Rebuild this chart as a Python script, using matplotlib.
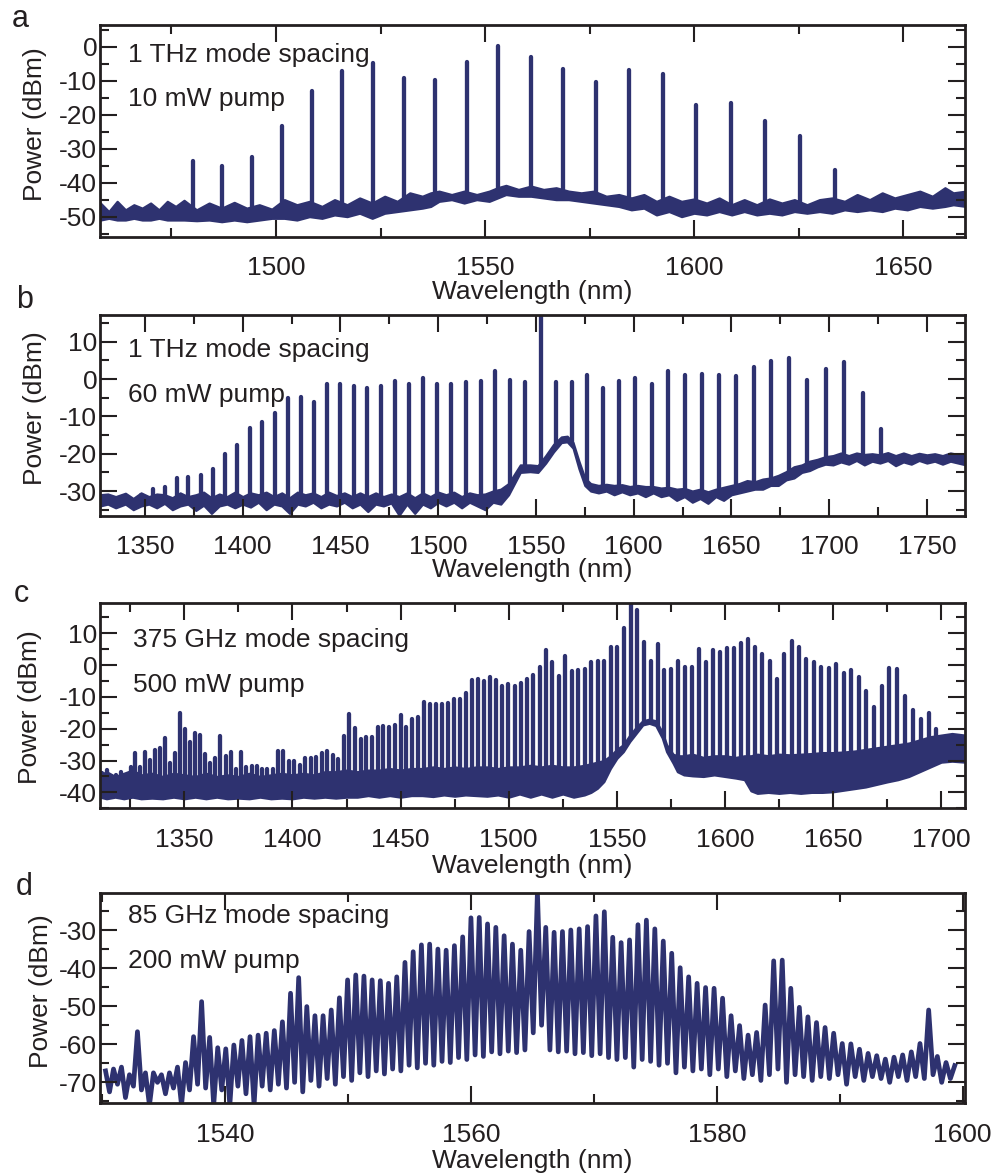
import numpy as np
import matplotlib
matplotlib.use("Agg")
import matplotlib.pyplot as plt
from matplotlib.ticker import MultipleLocator

plt.rcParams['font.family'] = ['Liberation Sans', 'DejaVu Sans']
plt.rcParams['axes.unicode_minus'] = False

C_NM_THZ = 299792.458          # speed of light, nm * THz
LINE = '#2e3270'
INK = '#231f20'
LW = 3.1
FS = 19

# ---------------- (a) 1 THz comb, 10 mW pump ----------------
a_pump_nm = 1553.2
a_spacing_thz = 0.952
a_modes = list(range(-10, 11))
a_peak_dbm = [-33.5, -35.0, -32.4, -23.3, -12.9, -7.1, -4.9, -9.3, -9.8, -4.4,
              0.2, -2.9, -6.6, -10.3, -6.7, -8.0, -17.1, -16.5, -21.8, -26.3,
              -36.3]
# noise floor: lower / upper edge of the trace
a_floor_nm = [1458, 1460, 1462, 1464, 1466, 1468, 1470, 1472, 1474, 1476,
              1478, 1481, 1484, 1487, 1490, 1493, 1496, 1499, 1502, 1505,
              1508, 1511, 1514, 1517, 1520, 1523, 1526, 1529, 1532, 1535,
              1537, 1539, 1542, 1545, 1548, 1551, 1553, 1555, 1558, 1561,
              1564, 1567, 1570, 1573, 1576, 1579, 1582, 1585, 1588, 1591,
              1594, 1597, 1600, 1603, 1606, 1609, 1612, 1615, 1618, 1621,
              1624, 1627, 1630, 1633, 1636, 1639, 1642, 1645, 1648, 1651,
              1654, 1657, 1660, 1662, 1665]
a_floor_low = [-51.0, -50.5, -51.0, -51.0, -50.5, -51.0, -51.0, -50.5, -51.0, -51.0,
               -51.0, -51.2, -51.0, -51.5, -51.0, -51.5, -51.0, -50.5, -50.5, -51.0,
               -50.0, -50.5, -49.5, -50.0, -49.0, -50.5, -49.0, -48.5, -48.0, -47.5,
               -47.0, -45.5, -45.0, -46.0, -45.0, -45.5, -44.5, -43.5, -44.0, -44.0,
               -44.5, -45.0, -45.0, -45.5, -46.0, -46.5, -47.0, -48.0, -47.5, -49.5,
               -48.5, -50.0, -49.0, -49.5, -48.5, -49.5, -48.5, -49.5, -49.0, -49.5,
               -48.5, -49.0, -48.5, -49.0, -48.0, -48.5, -48.0, -48.5, -47.5, -48.0,
               -47.0, -47.5, -47.0, -46.5, -47.0]
a_floor_high = [-46.0, -48.5, -45.5, -48.0, -46.5, -47.5, -46.0, -48.0, -45.5, -47.0,
                -45.2, -48.0, -46.0, -47.5, -45.8, -47.5, -46.5, -47.8, -45.0, -46.5,
                -45.5, -47.0, -45.0, -46.5, -44.5, -46.0, -44.0, -45.5, -43.0, -44.0,
                -43.0, -42.5, -43.5, -42.5, -43.5, -42.5, -41.5, -40.8, -42.0, -41.0,
                -42.0, -41.5, -42.5, -43.0, -42.5, -44.0, -43.5, -44.5, -43.5, -45.5,
                -44.0, -45.5, -44.8, -46.0, -44.5, -46.5, -45.0, -46.5, -44.8, -46.0,
                -45.0, -46.5, -45.0, -44.5, -45.5, -43.5, -45.0, -43.0, -44.5, -43.5,
                -42.5, -44.0, -41.5, -43.0, -42.5]

# ---------------- (b) 1 THz comb, 60 mW pump ----------------
b_pump_nm = 1552.4
b_spacing_thz = 0.975
b_modes = list(range(-30, 21))
b_peak_dbm = [-31.0, -29.5, -28.9, -26.6, -26.2, -25.6, -24.1, -20.2, -17.7, -13.0,
              -11.6, -9.2, -5.0, -4.9, -6.2, -1.4, -1.4, -1.8, -2.3, -1.9,
              -0.4, -1.3, 0.3, -1.3, -1.3, -0.7, -0.4, 2.1, -0.1, -0.7,
              20.0, -0.7, -0.7, 1.1, -2.3, -0.4, 0.2, -1.4, 2.2, 1.0,
              1.3, 1.1, 0.8, 3.3, 4.9, 5.7, -0.3, 2.7, 4.6, -3.8,
              -13.4]
b_floor_nm = [1327, 1331, 1335, 1340, 1344, 1348, 1352, 1356, 1360, 1364,
              1368, 1372, 1376, 1380, 1384, 1388, 1392, 1396, 1400, 1404,
              1408, 1412, 1416, 1420, 1424, 1428, 1432, 1436, 1440, 1444,
              1448, 1452, 1456, 1460, 1464, 1468, 1472, 1476, 1480, 1484,
              1488, 1492, 1496, 1500, 1504, 1508, 1512, 1516, 1520, 1524,
              1528, 1532, 1536, 1539, 1542, 1547, 1551, 1555, 1559, 1563,
              1566, 1569, 1572, 1575, 1578, 1582, 1586, 1590, 1594, 1598,
              1602, 1606, 1610, 1614, 1618, 1622, 1626, 1630, 1634, 1638,
              1642, 1646, 1650, 1654, 1658, 1662, 1666, 1670, 1674, 1678,
              1682, 1686, 1690, 1694, 1698, 1702, 1706, 1710, 1714, 1718,
              1722, 1726, 1730, 1734, 1738, 1742, 1746, 1750, 1754, 1758,
              1762, 1766, 1770]
b_floor_low = [-34.0, -33.5, -34.5, -33.5, -35.0, -34.0, -33.5, -34.5, -33.3, -35.0,
               -34.0, -33.5, -35.2, -33.8, -36.0, -34.0, -33.5, -34.5, -33.5, -34.3,
               -33.0, -35.0, -33.5, -34.0, -36.0, -33.5, -34.0, -33.0, -34.5, -33.5,
               -34.0, -33.0, -34.5, -33.5, -35.5, -33.5, -34.0, -33.2, -36.5, -33.5,
               -36.0, -33.5, -34.5, -33.0, -34.0, -33.0, -34.5, -33.0, -34.0, -35.0,
               -33.0, -33.5, -31.0, -28.0, -25.0, -24.8, -25.0, -22.5, -19.5, -17.0,
               -16.8, -18.5, -24.0, -28.5, -30.0, -30.5, -30.0, -31.0, -30.2, -31.0,
               -30.5, -31.5, -30.5, -31.5, -31.0, -32.5, -31.5, -33.0, -32.0, -33.3,
               -31.5, -32.5, -31.0, -30.5, -30.0, -29.5, -29.5, -28.5, -28.5, -27.0,
               -26.5, -25.0, -24.5, -23.5, -22.8, -23.0, -22.2, -22.8, -21.8, -23.0,
               -22.0, -22.5, -21.8, -23.2, -22.2, -22.8, -21.8, -22.5, -22.0, -22.8,
               -22.0, -22.5, -23.0]
b_floor_high = [-31.0, -30.8, -31.5, -30.6, -32.0, -30.5, -31.5, -30.8, -31.0, -31.8,
                -30.5, -31.5, -31.0, -30.3, -31.8, -30.8, -31.5, -30.3, -31.5, -30.5,
                -31.0, -30.3, -31.5, -30.5, -31.8, -30.3, -31.0, -30.5, -31.5, -30.3,
                -31.2, -30.5, -31.5, -30.5, -31.5, -30.5, -31.5, -30.8, -31.5, -30.5,
                -31.8, -30.5, -31.5, -30.3, -31.0, -30.3, -31.5, -30.5, -31.0, -30.8,
                -30.0, -29.5, -28.0, -25.5, -23.0, -23.0, -23.2, -20.5, -17.5, -15.5,
                -15.3, -17.0, -22.0, -26.5, -28.0, -28.5, -28.2, -28.5, -28.3, -28.8,
                -28.5, -28.8, -28.8, -29.2, -29.0, -29.5, -29.3, -30.0, -29.5, -30.2,
                -29.5, -29.0, -28.5, -28.0, -27.2, -27.5, -26.8, -26.5, -25.8, -24.8,
                -23.5, -23.0, -22.0, -21.5, -20.8, -20.5, -19.8, -20.5, -19.8, -20.2,
                -20.0, -20.3, -19.7, -20.5, -19.8, -20.5, -19.9, -20.3, -20.0, -20.5,
                -19.8, -20.2, -20.5]

# ---------------- (c) 375 GHz comb, 500 mW pump ----------------
c_pump_nm = 1556.4
c_spacing_thz = 0.382
c_modes = list(range(-94, 43))
c_peak_dbm = [-34.0, -33.0, -35.0, -34.5, -33.5, -35.0, -32.0, -27.7, -31.9, -27.2,
              -29.8, -26.7, -26.2, -23.0, -30.7, -27.7, -15.2, -20.2, -24.1, -21.5,
              -22.0, -28.0, -30.7, -29.3, -22.3, -28.6, -27.3, -32.5, -27.3, -31.9,
              -31.7, -31.7, -32.5, -32.5, -32.7, -26.9, -26.9, -30.0, -30.0, -31.4,
              -29.1, -29.3, -28.8, -27.7, -26.9, -28.2, -29.5, -22.2, -15.4, -19.9,
              -23.3, -22.7, -22.7, -19.4, -19.0, -19.6, -18.8, -15.7, -19.6, -16.8,
              -16.2, -11.7, -12.2, -12.2, -12.2, -12.0, -10.8, -10.8, -8.9, -4.7,
              -4.4, -4.9, -3.9, -4.6, -6.5, -6.1, -6.7, -5.5, -4.5, -3.1,
              -0.7, 4.7, 1.1, -3.3, 2.7, -2.0, -1.5, -1.3, 0.9, 1.4,
              1.4, 5.8, 5.8, 11.6, 22.0, 17.3, 7.2, 1.4, 6.6, -1.6,
              -1.3, 1.4, -0.7, -0.7, 5.1, 0.9, 4.7, 4.0, 5.3, 5.3,
              6.9, 8.1, 5.7, 3.5, 1.4, -4.3, 3.5, 7.4, 5.8, 1.9,
              1.1, -0.7, -1.0, 0.3, -2.6, -1.5, -3.9, -8.1, -13.1, -6.5,
              -1.0, -1.3, -9.6, -14.1, -17.0, -15.2, -20.0]
# unresolved background band under the comb lines
c_band_nm = [1311, 1314, 1318, 1322, 1326, 1330, 1335, 1340, 1345, 1350,
             1355, 1360, 1365, 1370, 1375, 1380, 1385, 1390, 1395, 1400,
             1405, 1410, 1415, 1420, 1425, 1430, 1435, 1440, 1445, 1450,
             1455, 1460, 1465, 1470, 1475, 1480, 1485, 1490, 1495, 1500,
             1505, 1510, 1515, 1520, 1525, 1530, 1535, 1538, 1541, 1544,
             1547, 1550, 1553, 1556, 1559, 1562, 1565, 1568, 1571, 1573,
             1576, 1578, 1581, 1585, 1590, 1595, 1600, 1605, 1609, 1612,
             1615, 1620, 1625, 1630, 1635, 1640, 1645, 1650, 1655, 1660,
             1665, 1670, 1675, 1680, 1685, 1690, 1695, 1700, 1705, 1711]
c_band_low = [-41.5, -42.0, -41.5, -42.0, -41.5, -42.0, -41.8, -42.0, -41.5, -42.0,
              -41.5, -42.0, -41.5, -42.0, -41.8, -42.0, -41.5, -42.0, -41.8, -42.0,
              -41.5, -41.8, -41.5, -41.8, -41.5, -41.5, -41.0, -41.5, -41.0, -41.5,
              -41.0, -41.0, -41.3, -40.8, -41.2, -40.8, -41.0, -41.2, -40.8, -41.5,
              -40.5, -41.5, -40.5, -41.5, -40.5, -41.5, -40.8, -40.0, -38.7, -36.6,
              -32.5, -29.3, -27.2, -24.0, -21.4, -18.8, -18.3, -19.0, -22.9, -27.2,
              -30.8, -33.5, -34.5, -34.8, -35.0, -34.5, -35.0, -35.5, -36.0, -39.5,
              -40.3, -40.0, -40.3, -40.0, -40.3, -40.0, -40.0, -39.8, -39.3, -38.8,
              -38.3, -37.5, -36.7, -36.0, -35.0, -33.5, -32.0, -30.5, -30.2, -30.5]
c_band_high = [-34.5, -33.5, -35.0, -34.0, -33.0, -34.5, -34.0, -35.0, -34.0, -34.5,
               -35.0, -34.0, -35.0, -34.5, -35.0, -34.0, -35.0, -34.5, -34.0, -34.5,
               -34.0, -34.5, -33.5, -33.5, -33.0, -33.5, -33.0, -33.0, -32.5, -33.0,
               -32.5, -32.5, -32.0, -32.5, -32.0, -32.5, -32.0, -32.0, -32.5, -32.0,
               -32.0, -31.5, -32.0, -31.5, -32.0, -32.0, -31.5, -31.0, -30.5, -30.0,
               -28.5, -26.5, -25.0, -22.0, -19.5, -17.5, -17.0, -17.5, -21.0, -25.0,
               -28.0, -28.5, -28.5, -28.0, -29.0, -28.5, -28.5, -29.0, -28.5, -28.5,
               -28.0, -28.5, -28.0, -28.2, -28.0, -27.8, -27.5, -27.5, -27.3, -27.0,
               -26.5, -26.0, -25.5, -25.0, -24.5, -23.5, -22.5, -22.0, -21.5, -22.0]

# ---------------- (d) 85 GHz comb, 200 mW pump ----------------
d_pump_nm = 1565.4
d_spacing_thz = 0.083
d_modes = list(range(-53, 50))
d_peak_dbm = [-67.0, -66.5, -66.0, -68.0, -56.7, -67.5, -67.5, -68.0, -67.5, -66.0,
              -64.8, -58.0, -48.8, -58.2, -60.9, -61.2, -60.2, -59.0, -58.0, -57.6,
              -57.1, -56.4, -54.1, -46.6, -42.5, -50.1, -52.5, -52.5, -51.0, -47.8,
              -43.1, -41.8, -42.1, -43.1, -43.3, -44.0, -42.3, -38.5, -35.7, -33.9,
              -33.7, -35.0, -35.3, -34.1, -31.8, -26.8, -26.7, -28.4, -29.3, -31.5,
              -33.7, -35.3, -30.4, -20.0, -29.3, -30.6, -30.4, -30.0, -29.7, -29.1,
              -26.3, -25.2, -31.9, -33.3, -32.6, -28.6, -27.4, -29.7, -32.9, -36.1,
              -39.9, -42.3, -44.0, -45.1, -45.3, -47.9, -52.5, -55.1, -57.6, -56.9,
              -49.7, -38.1, -37.9, -45.3, -50.3, -52.8, -54.3, -55.6, -57.1, -59.8,
              -59.9, -61.3, -62.4, -63.0, -63.9, -63.4, -62.8, -62.0, -59.8, -51.0,
              -63.2, -64.8, -65.6]
# minimum between neighbouring lines
d_valley_dbm = [-72.5, -70.5, -74.0, -71.0, -72.0, -76.0, -70.0, -73.0, -71.5, -76.0,
                -72.0, -70.5, -71.5, -76.0, -72.0, -76.0, -71.0, -73.0, -76.0, -71.0,
                -72.0, -70.5, -71.5, -70.0, -72.5, -69.5, -71.0, -69.0, -70.5, -68.5,
                -69.5, -67.5, -68.5, -67.0, -67.8, -66.5, -67.0, -65.5, -66.2, -65.0,
                -65.5, -64.5, -64.8, -63.5, -64.0, -62.8, -63.2, -62.0, -62.5, -61.8,
                -62.2, -61.5, -57.0, -55.0, -61.5, -62.0, -61.8, -62.5, -62.2, -63.0,
                -62.5, -63.5, -64.0, -63.5, -66.0, -64.0, -64.5, -65.5, -65.0, -67.5,
                -66.0, -67.0, -66.5, -68.0, -66.5, -68.5, -67.0, -69.0, -68.0, -69.5,
                -68.0, -66.5, -70.0, -68.0, -68.5, -69.5, -68.5, -69.0, -68.0, -70.5,
                -68.5, -69.5, -68.5, -69.0, -70.0, -68.5, -69.5, -68.5, -69.0, -68.0,
                -70.0, -69.0]


def comb_nm(pump_nm, spacing_thz, modes):
    """Wavelengths of comb lines; positive mode index = lower frequency."""
    f = C_NM_THZ / pump_nm - spacing_thz * np.asarray(modes, dtype=float)
    return C_NM_THZ / f


def style_axes(ax, xlim, ylim, xmaj, xmin, ymaj, ymin):
    ax.set_xlim(*xlim)
    ax.set_ylim(*ylim)
    ax.set_axisbelow(False)
    ax.xaxis.set_major_locator(MultipleLocator(xmaj))
    ax.xaxis.set_minor_locator(MultipleLocator(xmin))
    ax.yaxis.set_major_locator(MultipleLocator(ymaj))
    ax.yaxis.set_minor_locator(MultipleLocator(ymin))
    ax.tick_params(which='both', direction='in', top=True, right=True,
                   width=1.5, color=INK, labelcolor=INK)
    ax.tick_params(which='major', length=12)
    ax.tick_params(which='minor', length=6.5)
    ax.tick_params(axis='x', which='both', pad=14, labelsize=FS)
    ax.tick_params(axis='y', which='both', pad=2, labelsize=FS)
    for s in ax.spines.values():
        s.set_linewidth(2.0)
        s.set_color(INK)


def comb_on_band(ax, peak_nm, peak_dbm, band_nm, band_low, band_high, bottom):
    """Comb lines rising out of a noisy background band."""
    ax.vlines(peak_nm, bottom, peak_dbm, colors=LINE, linewidth=LW,
              capstyle='round', zorder=2.0)
    ax.fill_between(band_nm, bottom, band_low, color='white',
                    linewidth=0, zorder=2.05)
    ax.fill_between(band_nm, band_low, band_high, facecolor=LINE,
                    edgecolor=LINE, linewidth=1.6, joinstyle='round',
                    zorder=2.1)


def labels(ax, line1, line2, tx, ty1, ty2, ylab_x, ylab_y, xlab_y):
    ax.text(tx, ty1, line1, transform=ax.transAxes, fontsize=FS,
            color=INK, va='baseline', ha='left')
    ax.text(tx, ty2, line2, transform=ax.transAxes, fontsize=FS,
            color=INK, va='baseline', ha='left')
    ax.set_ylabel('Power (dBm)', fontsize=FS, color=INK, va='baseline')
    ax.yaxis.set_label_coords(ylab_x, ylab_y)
    ax.set_xlabel('Wavelength (nm)', fontsize=FS, color=INK, va='baseline')
    ax.xaxis.set_label_coords(0.5, xlab_y)


fig = plt.figure(figsize=(9.94, 11.75), dpi=100)
W, H = 994.0, 1175.0


def add_axes(top_px, bottom_px, left_px=100.0, right_px=965.0):
    return fig.add_axes([left_px / W, 1 - bottom_px / H,
                         (right_px - left_px) / W, (bottom_px - top_px) / H])


# (a)
ax = add_axes(25, 237)
comb_on_band(ax, comb_nm(a_pump_nm, a_spacing_thz, a_modes), a_peak_dbm,
             a_floor_nm, a_floor_low, a_floor_high, -70)
style_axes(ax, (1457.9, 1664.8), (-56.0, 6.4), 50, 25, 10, 5)
labels(ax, '1 THz mode spacing', '10 mW pump', 0.0324, 0.827, 0.618,
       -0.0674, 0.533, -0.2925)

# (b)
ax = add_axes(315, 516)
comb_on_band(ax, comb_nm(b_pump_nm, b_spacing_thz, b_modes), b_peak_dbm,
             b_floor_nm, b_floor_low, b_floor_high, -50)
style_axes(ax, (1327.0, 1769.5), (-36.7, 17.2), 50, 25, 10, 5)
labels(ax, '1 THz mode spacing', '60 mW pump', 0.0324, 0.7925, 0.5687,
       -0.0674, 0.537, -0.302)

# (c)
ax = add_axes(603.3, 808.3)
comb_on_band(ax, comb_nm(c_pump_nm, c_spacing_thz, c_modes), c_peak_dbm,
             c_band_nm, c_band_low, c_band_high, -60)
style_axes(ax, (1311.0, 1711.0), (-45.0, 19.4), 50, 25, 10, 5)
labels(ax, '375 GHz mode spacing', '500 mW pump', 0.0378, 0.7883, 0.5688,
       -0.0732, 0.492, -0.317)

# (d)
ax = add_axes(892.7, 1103.3)
d_nm = comb_nm(d_pump_nm, d_spacing_thz, d_modes)
d_mid = 0.5 * (d_nm[:-1] + d_nm[1:])
xs = np.empty(2 * len(d_nm) - 1)
ys = np.empty_like(xs)
xs[0::2], xs[1::2] = d_nm, d_mid
ys[0::2], ys[1::2] = d_peak_dbm, d_valley_dbm
ax.plot(xs, ys, color=LINE, lw=3.4, solid_joinstyle='round', zorder=2.0)
style_axes(ax, (1529.8, 1600.2), (-75.5, -20.2), 20, 10, 10, 5)
labels(ax, '85 GHz mode spacing', '200 mW pump', 0.0327, 0.8547, 0.641,
       -0.0598, 0.534, -0.3086)

# panel letters
for letter, x_px, base_px in [('a', 11.7, 26.7), ('b', 16.0, 308.3),
                              ('c', 13.3, 601.7), ('d', 16.0, 895.0)]:
    fig.text(x_px / W, 1 - base_px / H, letter, fontsize=22, color=INK,
             ha='left', va='baseline')

fig.savefig('out.png', dpi=100)
